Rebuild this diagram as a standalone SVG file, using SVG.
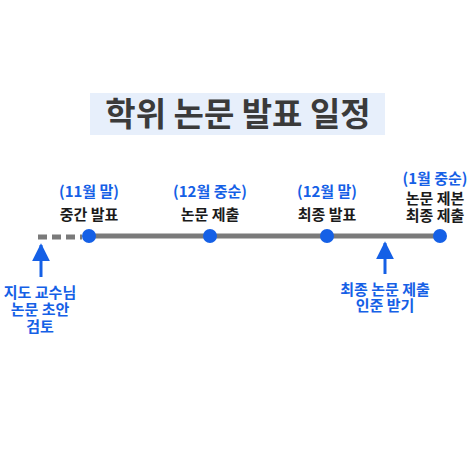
<svg xmlns="http://www.w3.org/2000/svg" width="474" height="474" viewBox="0 0 474 474">
<style>
.t{font-family:"Noto Sans CJK KR","Noto Sans",sans-serif;text-anchor:middle}
.title{font-size:33px;font-weight:700;fill:#3a3a3a}
.date{font-size:15px;font-weight:700;fill:#1560e6}
.ev{font-size:15px;font-weight:700;fill:#1a1a1a}
.note{font-size:15px;font-weight:700;fill:#1560e6}
.dot{fill:#1560e6}
.line{stroke:#7a7a7a;stroke-width:5}
.arr{stroke:#1560e6;stroke-width:3}
</style>
<defs>
<marker id="ah" viewBox="0 0 10 10" refX="9" refY="5" markerWidth="6" markerHeight="6" orient="auto" markerUnits="strokeWidth">
<path d="M0,0 L10,5 L0,10 z" fill="#1560e6"/>
</marker>
</defs>
<rect width="474" height="474" fill="#ffffff"/>
<g id="title">
<rect x="90" y="93" width="295" height="42" fill="#e7effb"/>
<text class="t title" x="238" y="126">학위 논문 발표 일정</text>
</g>
<g id="connectors">
<line class="line" x1="38" y1="237" x2="82" y2="237" stroke-dasharray="9,5"/>
<line class="line" x1="89" y1="236" x2="440" y2="236"/>
<line class="arr" x1="41" y1="277" x2="41" y2="245" marker-end="url(#ah)"/>
<line class="arr" x1="385" y1="274" x2="385" y2="243" marker-end="url(#ah)"/>
</g>
<g id="n1">
<circle class="dot" cx="89" cy="236" r="7"/>
<text class="t date" x="89" y="197">(11월 말)</text>
<text class="t ev" x="89" y="220">중간 발표</text>
</g>
<g id="n2">
<circle class="dot" cx="210" cy="236" r="7"/>
<text class="t date" x="210" y="197">(12월 중순)</text>
<text class="t ev" x="210" y="220">논문 제출</text>
</g>
<g id="n3">
<circle class="dot" cx="327" cy="236" r="7"/>
<text class="t date" x="327" y="197">(12월 말)</text>
<text class="t ev" x="327" y="220">최종 발표</text>
</g>
<g id="n4">
<circle class="dot" cx="440" cy="236" r="7"/>
<text class="t date" x="435" y="184">(1월 중순)</text>
<text class="t ev" x="435" y="221"><tspan x="435" y="204">논문 제본</tspan><tspan x="435" y="221">최종 제출</tspan></text>
</g>
<g id="note1">
<text class="t note"><tspan x="40" y="298">지도 교수님</tspan><tspan x="40" y="315">논문 초안</tspan><tspan x="40" y="332">검토</tspan></text>
</g>
<g id="note2">
<text class="t note"><tspan x="385" y="295">최종 논문 제출</tspan><tspan x="385" y="311">인준 받기</tspan></text>
</g>
</svg>
